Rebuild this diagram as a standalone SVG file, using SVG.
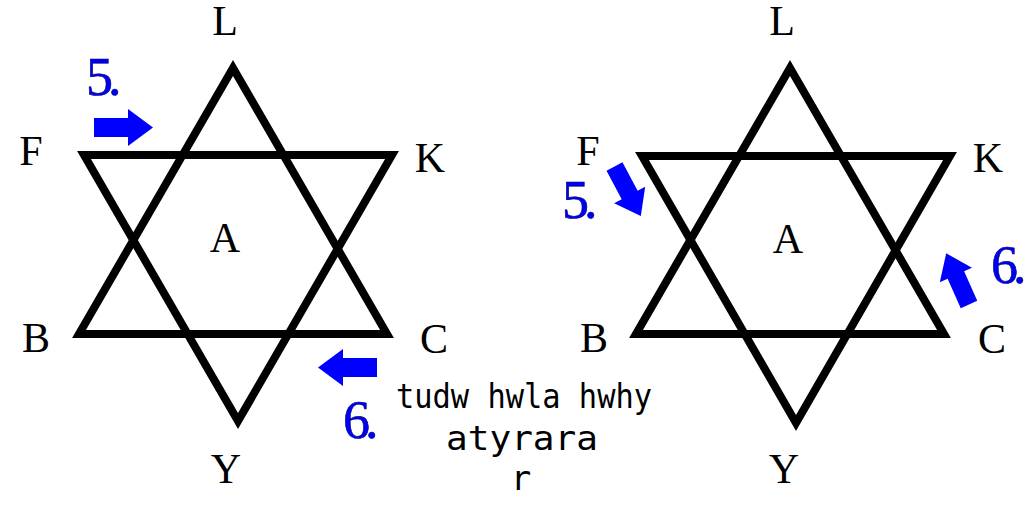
<svg xmlns="http://www.w3.org/2000/svg" xmlns:xlink="http://www.w3.org/1999/xlink" width="1029" height="508" viewBox="0 0 1029 508">
<style>
.tri{fill:none;stroke:#000;stroke-width:8;stroke-linejoin:miter;stroke-miterlimit:10}
.lbl{font-family:"Liberation Serif","Times New Roman",serif;font-size:42px;fill:#000;text-anchor:middle}
.num{font-family:"Liberation Serif","Times New Roman",serif;font-size:54px;letter-spacing:-5px;fill:#0000f0;stroke:#000080;stroke-width:0.6}
.note{font-family:"DejaVu Sans Mono",monospace;font-size:34px;fill:#000;text-anchor:middle}
.arr{fill:#0000ff}
</style>
<defs>
<path id="arrow" d="M0,-9.5 H34 V-18.5 L59,0 L34,18.5 V9.5 H0 Z"/>
</defs>
<rect width="1029" height="508" fill="#fff"/>
<g id="star-left">
<polygon class="tri" points="233,68 79,334 387,334"/>
<polygon class="tri" points="84,155 392,155 238,421"/>
</g>
<g id="star-right">
<polygon class="tri" points="790,68 636,334 944,334"/>
<polygon class="tri" points="642,156 950,156 796,423"/>
</g>
<g id="labels-left">
<text class="lbl" x="225" y="35">L</text>
<text class="lbl" x="31" y="165">F</text>
<text class="lbl" x="430" y="172">K</text>
<text class="lbl" x="225" y="252">A</text>
<text class="lbl" x="36" y="352">B</text>
<text class="lbl" x="434" y="353">C</text>
<text class="lbl" x="226" y="483">Y</text>
</g>
<g id="labels-right">
<text class="lbl" x="782" y="35">L</text>
<text class="lbl" x="588" y="165">F</text>
<text class="lbl" x="988" y="172">K</text>
<text class="lbl" x="788" y="253">A</text>
<text class="lbl" x="594" y="352">B</text>
<text class="lbl" x="992" y="353">C</text>
<text class="lbl" x="784" y="483">Y</text>
</g>
<g id="numbers">
<text class="num" x="86" y="95">5.</text>
<text class="num" x="343" y="438">6.</text>
<text class="num" x="562" y="218">5.</text>
<text class="num" x="991" y="283">6.</text>
</g>
<g id="arrows">
<use xlink:href="#arrow" class="arr" transform="translate(94,127.5)"/>
<use xlink:href="#arrow" class="arr" transform="translate(377,367.5) rotate(180)"/>
<use xlink:href="#arrow" class="arr" transform="translate(614.5,166.5) rotate(62) scale(0.95)"/>
<use xlink:href="#arrow" class="arr" transform="translate(969,304.5) rotate(-114) scale(0.95)"/>
</g>
<g id="note">
<text class="note" x="524" y="408" textLength="256" lengthAdjust="spacingAndGlyphs">tudw hwla hwhy</text>
<text class="note" x="522" y="450" textLength="152" lengthAdjust="spacingAndGlyphs">atyrara</text>
<text class="note" x="521" y="490">r</text>
</g>
</svg>
